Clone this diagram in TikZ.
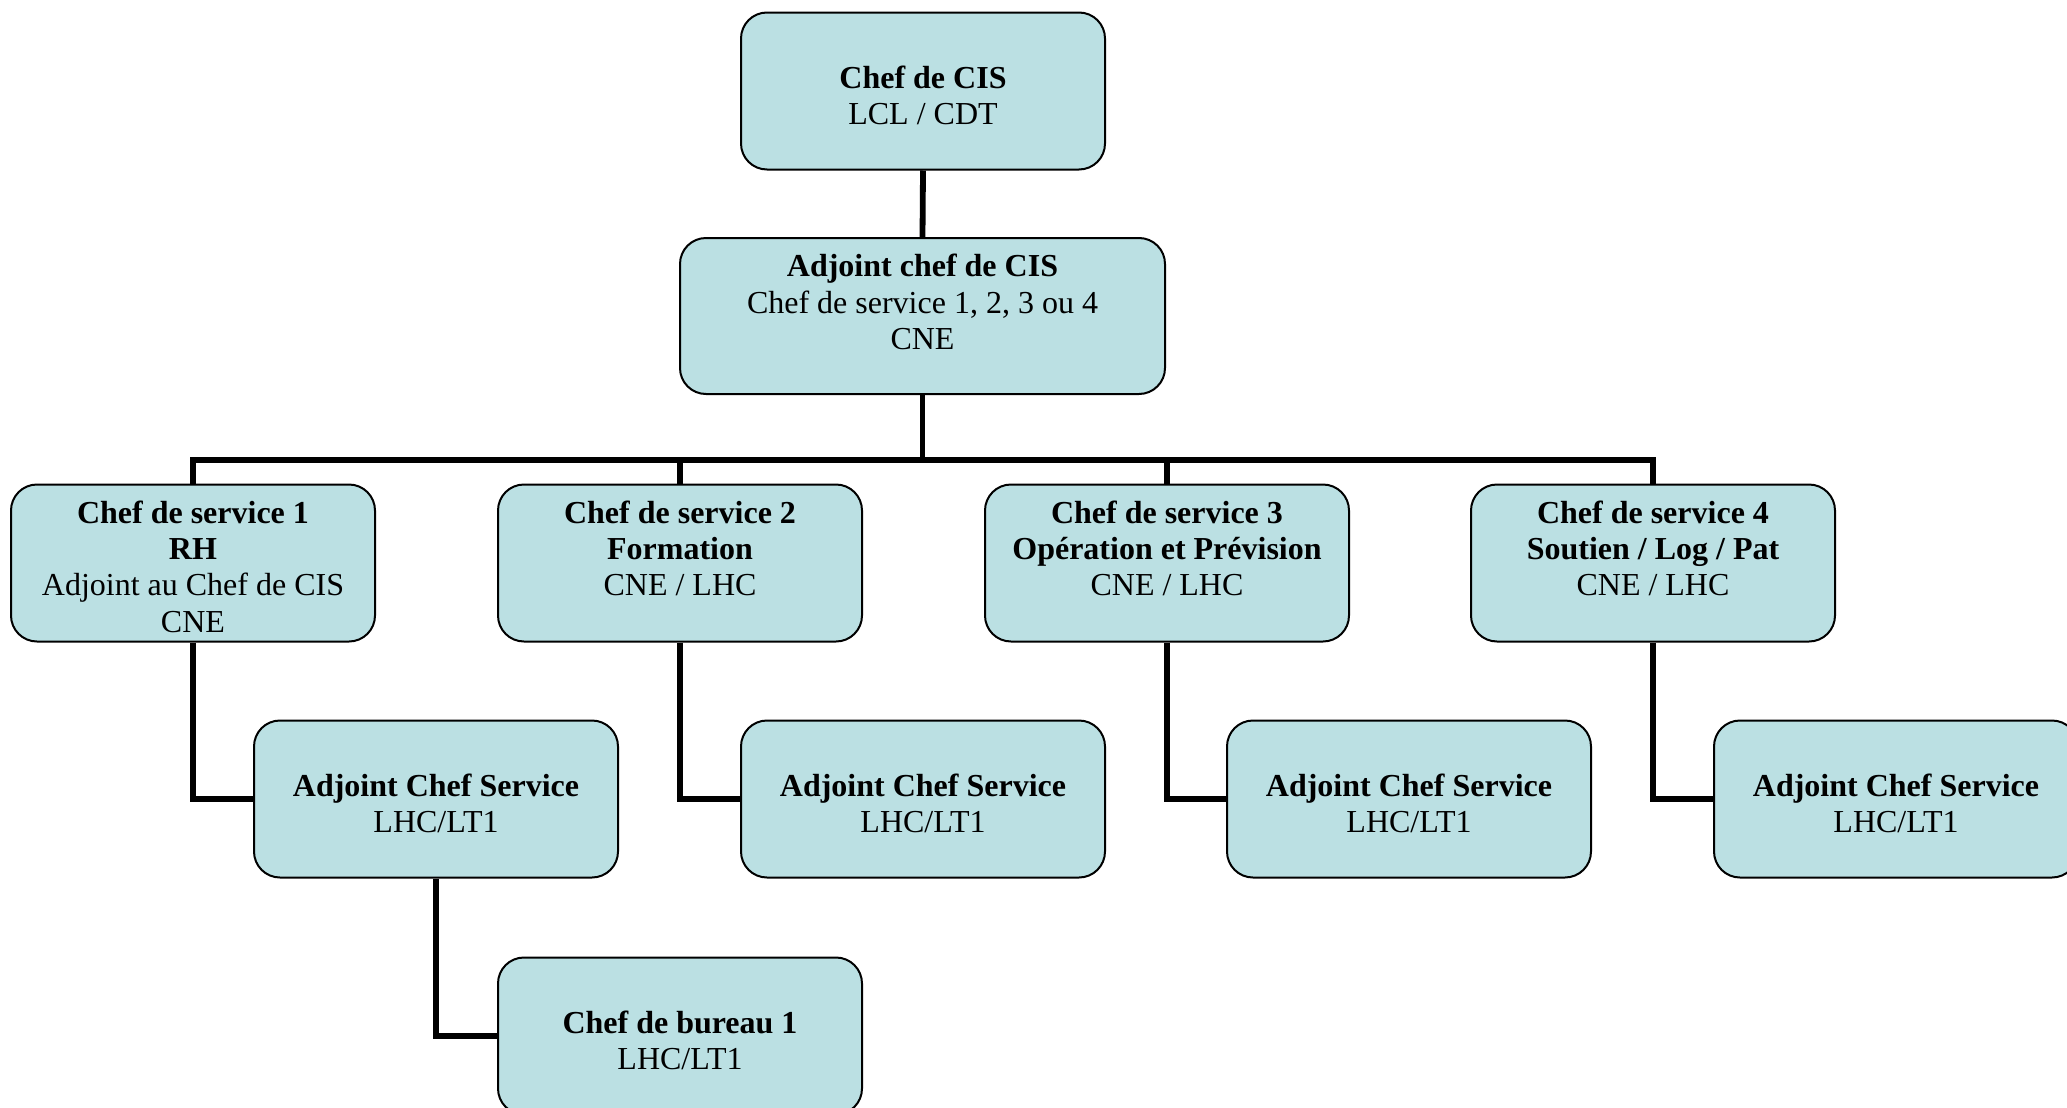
\documentclass[tikz,border=0pt]{standalone}
\usepackage{fontspec}
\setmainfont{Liberation Serif}
\usetikzlibrary{backgrounds}
\definecolor{boxfill}{RGB}{187,224,227}
\begin{document}
\begin{tikzpicture}[x=0.5pt,y=-0.5pt,
  box/.style={draw=black, line width=1pt, fill=boxfill, rounded corners=13pt,
    minimum width=182pt, minimum height=78.5pt, inner sep=0pt},
  wide/.style={box, minimum width=242.5pt, minimum height=78pt},
  lbl/.style={anchor=north, align=center, inner sep=0pt,
    font=\fontsize{16}{18.1}\selectfont},
  link/.style={line width=2.9pt}
]
\useasboundingbox (0,0) rectangle (2067,1108);

\node[box]  (cis) at (923,91)  {};
\node[wide] (adj) at (922.5,316) {};
\node[box]  (cs1) at (193,563) {};
\node[box]  (cs2) at (680,563) {};
\node[box]  (cs3) at (1167,563) {};
\node[box]  (cs4) at (1653,563) {};
\node[box]  (a1)  at (436,799) {};
\node[box]  (a2)  at (923,799) {};
\node[box]  (a3)  at (1409,799) {};
\node[box]  (a4)  at (1896,799) {};
\node[box]  (b1)  at (680,1036) {};

\node[lbl] (tcis) at ([yshift=-27pt]cis.north) {\textbf{Chef de CIS}\\LCL / CDT};
\node[lbl] (tadj) at ([yshift=-8.5pt]adj.north) {\textbf{Adjoint chef de CIS}\\Chef de service 1, 2, 3 ou 4\\CNE};
\node[lbl] (tcs1) at ([yshift=-8.5pt]cs1.north) {\textbf{Chef de service 1}\\\textbf{RH}\\Adjoint au Chef de CIS\\CNE};
\node[lbl] (tcs2) at ([yshift=-8.5pt]cs2.north) {\textbf{Chef de service 2}\\\textbf{Formation}\\CNE / LHC};
\node[lbl] (tcs3) at ([yshift=-8.5pt]cs3.north) {\textbf{Chef de service 3}\\\textbf{Opération et Prévision}\\CNE / LHC};
\node[lbl] (tcs4) at ([yshift=-8.5pt]cs4.north) {\textbf{Chef de service 4}\\\textbf{Soutien / Log / Pat}\\CNE / LHC};
\node[lbl] (ta1) at ([yshift=-27pt]a1.north) {\textbf{Adjoint Chef Service}\\LHC/LT1};
\node[lbl] (ta2) at ([yshift=-27pt]a2.north) {\textbf{Adjoint Chef Service}\\LHC/LT1};
\node[lbl] (ta3) at ([yshift=-27pt]a3.north) {\textbf{Adjoint Chef Service}\\LHC/LT1};
\node[lbl] (ta4) at ([yshift=-27pt]a4.north) {\textbf{Adjoint Chef Service}\\LHC/LT1};
\node[lbl] (tb1) at ([yshift=-27pt]b1.north) {\textbf{Chef de bureau 1}\\LHC/LT1};

\begin{scope}[on background layer]
\coordinate (bus) at (923,460);
\draw[link] (cis.south) -- (adj.north);
\draw[link] (adj.south) -- (adj.south |- bus);
\draw[link] (cs1.north) -- (cs1.north |- bus) -- (cs4.north |- bus) -- (cs4.north);
\draw[link] (cs2.north) -- (cs2.north |- bus);
\draw[link] (cs3.north) -- (cs3.north |- bus);
\draw[link] (cs1.south) |- (a1.west);
\draw[link] (cs2.south) |- (a2.west);
\draw[link] (cs3.south) |- (a3.west);
\draw[link] (cs4.south) |- (a4.west);
\draw[link] (a1.south) |- (b1.west);
\end{scope}
\end{tikzpicture}
\end{document}
